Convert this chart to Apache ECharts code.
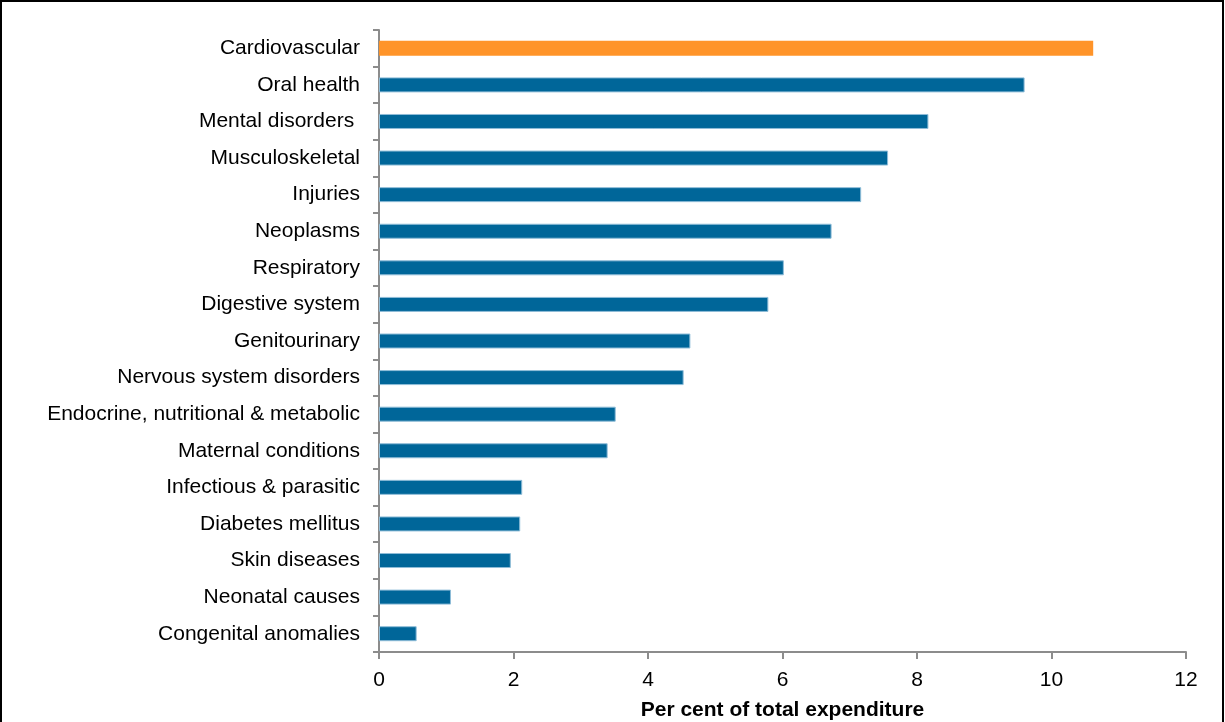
<!DOCTYPE html>
<html>
<head>
<meta charset="utf-8">
<script src="https://cdn.jsdelivr.net/npm/echarts@6/dist/echarts.min.js"></script>
<style>
  html, body { margin: 0; padding: 0; background: #fff; }
  #chart { width: 1225px; height: 722px; }
</style>
</head>
<body>
<div id="chart"></div>
<script>
// Disease groups, top to bottom
const categories = [
  'Cardiovascular', 'Oral health', 'Mental disorders ', 'Musculoskeletal', 'Injuries',
  'Neoplasms', 'Respiratory', 'Digestive system', 'Genitourinary',
  'Nervous system disorders', 'Endocrine, nutritional & metabolic',
  'Maternal conditions', 'Infectious & parasitic', 'Diabetes mellitus',
  'Skin diseases', 'Neonatal causes', 'Congenital anomalies'
];
// Share of total expenditure (%)
const values = [
  10.62, 9.60, 8.17, 7.57, 7.17, 6.73, 6.02, 5.79, 4.63,
  4.53, 3.52, 3.40, 2.13, 2.10, 1.96, 1.07, 0.56
];
const xTicks = [0, 2, 4, 6, 8, 10, 12];
const highlighted = 'Cardiovascular';

const chart = echarts.init(document.getElementById('chart'));
const font = 'Liberation Sans, Arial, sans-serif';

chart.setOption({
  animation: false,
  graphic: [{
    type: 'rect',
    shape: { x: 1, y: 1, width: 1222, height: 740 },
    style: { fill: 'none', stroke: '#000', lineWidth: 2 },
    silent: true
  }],
  grid: {
    left: 379, right: 39, top: 30, bottom: 70,
    containLabel: false,
    outerBoundsMode: 'none'
  },
  xAxis: {
    type: 'value',
    min: xTicks[0],
    max: xTicks[xTicks.length - 1],
    interval: 2,
    name: 'Per cent of total expenditure',
    nameLocation: 'middle',
    nameGap: 48,
    nameTextStyle: { fontFamily: font, fontSize: 21, fontWeight: 'bold', color: '#000' },
    axisLine: { show: true, lineStyle: { color: '#8c8c8c', width: 2 } },
    axisTick: { show: true, length: 7, lineStyle: { color: '#8c8c8c', width: 2 } },
    axisLabel: { fontFamily: font, fontSize: 21, color: '#000', margin: 18 },
    splitLine: { show: false }
  },
  yAxis: {
    type: 'category',
    data: categories,
    inverse: true,
    axisLine: { show: true, lineStyle: { color: '#8c8c8c', width: 2 } },
    axisTick: { show: true, length: 6, lineStyle: { color: '#8c8c8c', width: 2 } },
    axisLabel: { fontFamily: font, fontSize: 21, color: '#000', margin: 19 }
  },
  series: [{
    type: 'bar',
    data: values.map((v, i) => ({
      value: v,
      itemStyle: categories[i] === highlighted
        ? { color: '#ff9429', borderColor: '#ff9429', borderWidth: 0 }
        : { color: '#006699', borderColor: '#8fbdd8', borderWidth: 1 }
    })),
    barWidth: 15
  }]
});
</script>
</body>
</html>
